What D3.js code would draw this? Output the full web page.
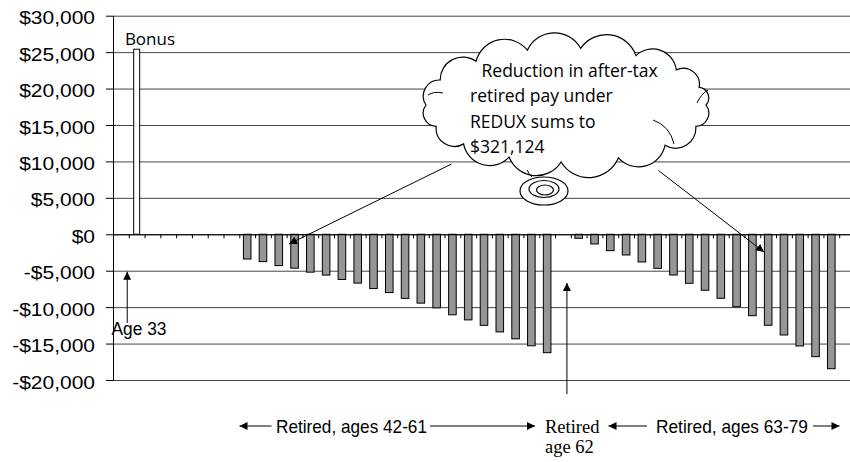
<!DOCTYPE html>
<html>
<head>
<meta charset="utf-8">
<script src="https://cdn.jsdelivr.net/npm/d3@7/dist/d3.min.js"></script>
<style>
body { margin: 0; background: #fff; }
svg { display: block; }
</style>
</head>
<body>
<div class="chart"></div>
<script>
// categories: one per year of age
var ages = d3.range(34, 81);

// separation bonus
var bonusAge = 35;
var bonusValue = 25400;

// reduction in after-tax retired pay, ages 42-61
var earlyAges = d3.range(42, 62);
var earlyCut = [-3400, -3750, -4300, -4650, -5200, -5600, -6200, -6700, -7450, -8000,
                -8800, -9450, -10100, -11050, -11750, -12500, -13400, -14350, -15300, -16250];

// reduction in after-tax retired pay, ages 63-79
var lateAges = d3.range(63, 80);
var lateCut = [-550, -1330, -2250, -2840, -3800, -4670, -5590, -6725, -7685, -8785,
               -9935, -11170, -12490, -13820, -15330, -16800, -18450];

var yTicks = [-20000, -15000, -10000, -5000, 0, 5000, 10000, 15000, 20000, 25000, 30000];

var cloudText = ["Reduction in after-tax", "retired pay under", "REDUX sums to", "$321,124"];

var svgWidth = 850, svgHeight = 462;
var plotLeft = 113, plotRight = 855, plotTop = 15.7, plotBottom = 380;

var svg = d3.select(".chart").append("svg")
    .attr("width", svgWidth)
    .attr("height", svgHeight);

svg.append("rect").attr("width", svgWidth).attr("height", svgHeight).attr("fill", "#fff");

var defs = svg.append("defs");
defs.append("marker")
    .attr("id", "arrow")
    .attr("viewBox", "0 0 10 10")
    .attr("refX", 10).attr("refY", 5)
    .attr("markerWidth", 10).attr("markerHeight", 8)
    .attr("markerUnits", "userSpaceOnUse")
    .attr("orient", "auto")
  .append("path")
    .attr("d", "M0,0L10,5L0,10Z")
    .attr("fill", "#000");

// scales
var x = d3.scaleBand()
    .domain(ages)
    .range([plotLeft, plotRight])
    .paddingInner(0.52)
    .paddingOuter(0.26);

var slot = d3.scaleLinear()
    .domain([0, ages.length])
    .range([plotLeft, plotRight]);

var y = d3.scaleLinear()
    .domain([-20000, 30000])
    .range([plotBottom, plotTop]);

var xc = function (a) { return x(a) + x.bandwidth() / 2; };

// gridlines
svg.append("g")
    .attr("transform", `translate(${plotLeft},0)`)
    .call(d3.axisLeft(y).tickValues(yTicks).tickSize(-(svgWidth - plotLeft)).tickFormat(""))
    .call(g => g.select(".domain").remove())
    .call(g => g.selectAll("line").attr("stroke", "#444").attr("stroke-width", 1));

// bars
var bars = [];
earlyAges.forEach((a, i) => bars.push({ age: a, value: earlyCut[i] }));
lateAges.forEach((a, i) => bars.push({ age: a, value: lateCut[i] }));

svg.append("g").selectAll("rect")
    .data(bars)
    .enter()
    .append("rect")
    .attr("x", d => x(d.age))
    .attr("y", y(0))
    .attr("width", x.bandwidth())
    .attr("height", d => y(d.value) - y(0))
    .attr("fill", "#969696")
    .attr("stroke", "#000")
    .attr("stroke-width", 1);

svg.append("rect")
    .attr("x", x(bonusAge) + 0.8)
    .attr("y", y(bonusValue))
    .attr("width", x.bandwidth() - 1.6)
    .attr("height", y(0) - y(bonusValue))
    .attr("fill", "#fff")
    .attr("stroke", "#000")
    .attr("stroke-width", 1);

// x axis on the zero line, ticks between categories
svg.append("g")
    .attr("transform", `translate(0,${y(0)})`)
    .call(d3.axisBottom(slot).tickValues(d3.range(1, ages.length)).tickSize(4).tickSizeOuter(0).tickFormat(""))
    .call(g => g.selectAll("line, path").attr("stroke", "#000"));

// y axis
var yAxis = svg.append("g")
    .attr("transform", `translate(${plotLeft},0)`)
    .call(d3.axisLeft(y).tickValues(yTicks).tickSize(7).tickSizeOuter(0)
        .tickFormat(d => (d < 0 ? "-" : "") + "$" + d3.format(",")(Math.abs(d))));
yAxis.selectAll("line, path").attr("stroke", "#000");
yAxis.selectAll("text")
    .attr("x", 0)
    .attr("dy", "0.46em")
    .attr("transform", "translate(-18,0) scale(1.2,1)")
    .attr("fill", "#000")
    .style("font-family", "'Liberation Sans', Arial, sans-serif")
    .style("font-size", "17.5px");

// annotations
var note = svg.append("g").attr("fill", "#000");

note.append("text")
    .attr("x", x(bonusAge) - 8)
    .attr("y", y(bonusValue) - 4)
    .style("font-family", "'Open Sans', sans-serif")
    .style("font-size", "17px")
    .text("Bonus");

function arrow(x1, y1, x2, y2) {
    note.append("line")
        .attr("x1", x1).attr("y1", y1)
        .attr("x2", x2).attr("y2", y2)
        .attr("stroke", "#000")
        .attr("stroke-width", 1)
        .attr("marker-end", "url(#arrow)");
}

// Age 33
arrow(slot(0.9), 323, slot(0.9), y(-5150));
note.append("text")
    .attr("x", 111.5).attr("y", 335)
    .style("font-family", "'Liberation Sans', Arial, sans-serif")
    .style("font-size", "18px")
    .attr("textLength", 55).attr("lengthAdjust", "spacingAndGlyphs")
    .text("Age 33");

// Retired age 62
arrow(xc(62) + 4, 394, xc(62) + 4, 283);
note.append("text")
    .attr("x", 545).attr("y", 433)
    .style("font-family", "'Liberation Serif', 'Times New Roman', serif")
    .style("font-size", "18.5px")
    .text("Retired");
note.append("text")
    .attr("x", 545).attr("y", 453)
    .style("font-family", "'Liberation Serif', 'Times New Roman', serif")
    .style("font-size", "18.5px")
    .text("age 62");

// bottom range labels
arrow(271.5, 426, 239.5, 426);
arrow(430, 426, 535, 426);
arrow(647, 426, 608.5, 426);
arrow(813, 426, 839.5, 426);

note.append("text")
    .attr("x", 276).attr("y", 432.5)
    .style("font-family", "'Liberation Sans', Arial, sans-serif")
    .style("font-size", "19px")
    .attr("textLength", 151).attr("lengthAdjust", "spacingAndGlyphs")
    .text("Retired, ages 42-61");
note.append("text")
    .attr("x", 656).attr("y", 432.5)
    .style("font-family", "'Liberation Sans', Arial, sans-serif")
    .style("font-size", "19px")
    .attr("textLength", 152).attr("lengthAdjust", "spacingAndGlyphs")
    .text("Retired, ages 63-79");

// cloud callout
var cx = 566, cy = 105, rx = 140, ry = 57;
var angles = [180, 206, 230, 254, 276, 300, 322, 342, 360, 382, 405, 428, 452, 474, 497, 518, 540];
var pts = angles.map(a => [cx + rx * Math.cos(a * Math.PI / 180), cy + ry * Math.sin(a * Math.PI / 180)]);
var cloud = "M" + pts[0][0] + "," + pts[0][1];
for (var i = 1; i < pts.length; i++) {
    var dx = pts[i][0] - pts[i - 1][0], dy = pts[i][1] - pts[i - 1][1];
    var r = Math.sqrt(dx * dx + dy * dy) * 0.56;
    cloud += "A" + r + "," + r + " 0 0 1 " + pts[i][0] + "," + pts[i][1];
}
cloud += "Z";

note.append("path")
    .attr("d", cloud)
    .attr("fill", "#fff")
    .attr("stroke", "#000")
    .attr("stroke-width", 1.2);

// small inner creases of the cloud
["M653,120 Q670,126 674,144", "M697,103 Q701,94 708,90", "M443,93 Q434,91 428,95", "M527,170 Q529,174 532,177"]
    .forEach(d => note.append("path").attr("d", d).attr("fill", "none").attr("stroke", "#000").attr("stroke-width", 1));

note.append("ellipse").attr("cx", 544).attr("cy", 191).attr("rx", 24).attr("ry", 14)
    .attr("fill", "#fff").attr("stroke", "#000").attr("stroke-width", 1.2);
note.append("ellipse").attr("cx", 544).attr("cy", 189).attr("rx", 15).attr("ry", 8.5)
    .attr("fill", "#fff").attr("stroke", "#000").attr("stroke-width", 1.2);
note.append("ellipse").attr("cx", 545).attr("cy", 190).attr("rx", 8.5).attr("ry", 5)
    .attr("fill", "#fff").attr("stroke", "#000").attr("stroke-width", 1.2);

note.append("g").selectAll("text")
    .data(cloudText)
    .enter()
    .append("text")
    .attr("x", (d, i) => i === 0 ? 481.5 : 470)
    .attr("y", (d, i) => 77 + i * 25.4)
    .style("font-family", "'Open Sans', sans-serif")
    .style("font-size", "17.5px")
    .text(d => d);

arrow(451.5, 164, 289, 244);
arrow(658.5, 170.5, 764, 252);
</script>
</body>
</html>
